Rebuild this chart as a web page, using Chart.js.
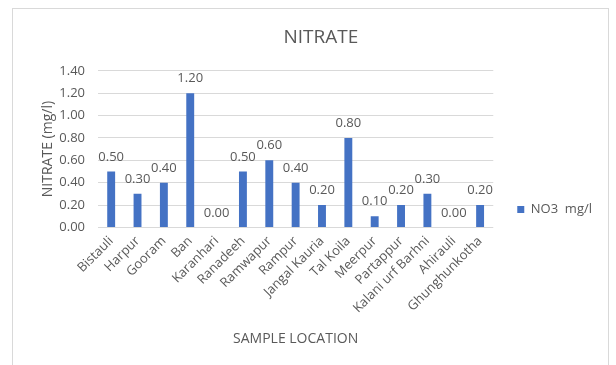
<!DOCTYPE html>
<html>
<head>
<meta charset="utf-8">
<script src="https://cdn.jsdelivr.net/npm/chart.js@4/dist/chart.umd.min.js"></script>
<style>
  html, body { margin: 0; padding: 0; background: #ffffff; }
  body { width: 616px; height: 365px; position: relative; overflow: hidden; }
  #frame {
    position: absolute; left: 12px; top: 8px; width: 597px; height: 400px;
    border: 1.5px solid #d9d9d9; box-sizing: border-box;
  }
  #wrap { position: absolute; left: 0; top: 0; width: 616px; height: 365px; }
</style>
</head>
<body>
<div id="frame"></div>
<div id="wrap"><canvas id="chart"></canvas></div>
<script>
// Nitrate concentration per sampling site
const locations = [
  'Bistauli', 'Harpur', 'Gooram', 'Ban', 'Karanhari', 'Ranadeeh', 'Ramwapur',
  'Rampur', 'Jangal Kauria', 'Tal Koila', 'Meerpur', 'Partappur',
  'Kalani urf Barhni', 'Ahirauli', 'Ghunghunkotha'
];
const no3Values = [0.50, 0.30, 0.40, 1.20, 0.00, 0.50, 0.60, 0.40, 0.20, 0.80, 0.10, 0.20, 0.30, 0.00, 0.20];
const seriesName = 'NO3  mg/l';
const yTicks = [0, 0.2, 0.4, 0.6, 0.8, 1.0, 1.2, 1.4];

const textColor = '#595959';
const fontFamily = '"Open Sans", "DejaVu Sans", sans-serif';

// Writes each bar's value above it
const valueLabels = {
  id: 'valueLabels',
  afterDatasetsDraw(chart) {
    const ctx = chart.ctx;
    ctx.save();
    ctx.font = '13px ' + fontFamily;
    ctx.fillStyle = textColor;
    ctx.textAlign = 'center';
    ctx.textBaseline = 'bottom';
    chart.data.datasets.forEach((ds, i) => {
      const meta = chart.getDatasetMeta(i);
      meta.data.forEach((bar, j) => {
        ctx.fillText(Number(ds.data[j]).toFixed(2), bar.x, bar.y - 8);
      });
    });
    ctx.restore();
  }
};

new Chart(document.getElementById('chart'), {
  type: 'bar',
  data: {
    labels: locations,
    datasets: [{
      label: seriesName,
      data: no3Values,
      backgroundColor: '#4472c4',
      borderWidth: 0,
      barPercentage: 0.5,
      categoryPercentage: 0.6
    }]
  },
  options: {
    responsive: true,
    maintainAspectRatio: false,
    animation: false,
    layout: { padding: { left: 39.6, right: 14, top: 0, bottom: 18 } },
    plugins: {
      title: {
        display: true,
        text: 'NITRATE',
        color: textColor,
        font: { family: fontFamily, size: 19, weight: 'normal' },
        padding: { top: 26, bottom: 22 }
      },
      legend: {
        position: 'right',
        // empty spacer title pushes the single entry down the right column
        title: {
          display: true,
          text: ' ',
          font: { family: fontFamily, size: 60 },
          padding: 0
        },
        labels: {
          boxWidth: 7,
          boxHeight: 7,
          padding: 24,
          color: textColor,
          font: { family: fontFamily, size: 13 }
        }
      },
      tooltip: { enabled: false }
    },
    scales: {
      x: {
        grid: { display: false, drawTicks: false },
        border: { display: false },
        ticks: {
          color: textColor,
          font: { family: fontFamily, size: 13 },
          maxRotation: 45,
          minRotation: 45,
          autoSkip: false,
          padding: 6
        },
        title: {
          display: true,
          text: 'SAMPLE LOCATION',
          color: textColor,
          font: { family: fontFamily, size: 14 },
          padding: { top: 8, bottom: 0 }
        }
      },
      y: {
        min: 0,
        max: 1.4,
        afterBuildTicks(scale) { scale.ticks = yTicks.map(v => ({ value: v })); },
        afterFit(scale) { scale.width = 58.4; },
        grid: { color: '#d9d9d9', lineWidth: 1, drawTicks: false },
        border: { display: false },
        ticks: {
          color: textColor,
          font: { family: fontFamily, size: 13 },
          padding: 13,
          callback: v => Number(v).toFixed(2)
        },
        title: {
          display: true,
          text: 'NITRATE (mg/l)',
          color: textColor,
          font: { family: fontFamily, size: 14 },
          padding: { top: 0, bottom: 2 }
        }
      }
    }
  },
  plugins: [valueLabels]
});
</script>
</body>
</html>
